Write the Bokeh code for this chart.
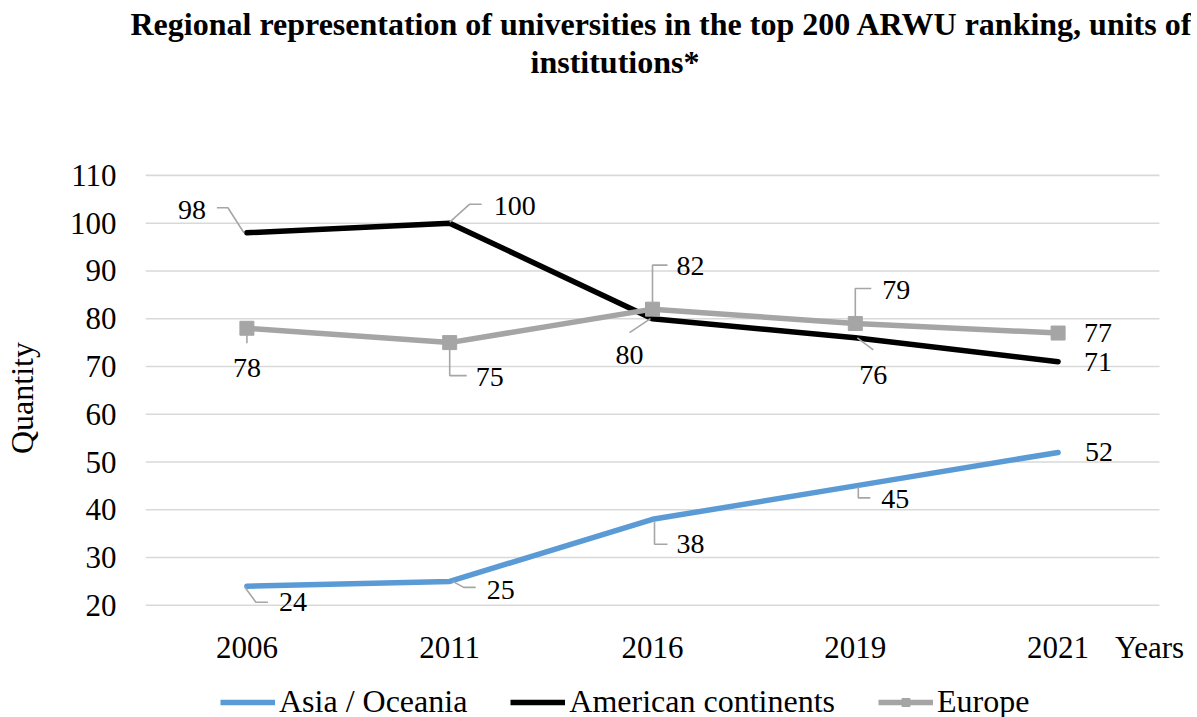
from bokeh.plotting import figure
from bokeh.models import Range1d, FixedTicker, Legend, LegendItem, Title
from bokeh.layouts import column
from bokeh.embed import file_html
from bokeh.resources import INLINE
from bokeh.core.properties import value

# ---------------- data ----------------
years = ["2006", "2011", "2016", "2019", "2021"]
asia = [24, 25, 38, 45, 52]
americas = [98, 100, 80, 76, 71]
europe = [78, 75, 82, 79, 77]
y_ticks = [20, 30, 40, 50, 60, 70, 80, 90, 100, 110]
series_names = ["Asia / Oceania", "American continents", "Europe"]
title_lines = ["Regional representation of universities in the top 200 ARWU ranking, units of",
               "institutions*"]
x_caption = "Years"
y_caption = "Quantity"

# ---------------- style / layout ----------------
FONT = "Liberation Serif"
FS_TICK = "31px"
FS_AXLAB = "32px"
FS_LAB = "28px"
FS_LEG = "32px"
FS_TITLE = "32px"
PX_X = 202.8            # pixels per category
PX_Y = 430 / 90         # pixels per unit
Y_LO, Y_HI = 16.4, 110.4
X_HI = 5 + 28 / PX_X
FRAME_W = round(X_HI * PX_X)
FRAME_H = round((Y_HI - Y_LO) * PX_Y)
LEFT, TOP, BOTTOM, RIGHT = 143, 173, 42, 4
LEG_H = 717 - (TOP + FRAME_H + BOTTOM)
xs = [i + 0.5 for i in range(len(years))]
CAPTION_X = len(years) - 10 / PX_X

C_ASIA = "#5B9BD5"
C_AM = "#000000"
C_EU = "#A5A5A5"
C_LEAD = "#A6A6A6"
C_GRID = "#D9D9D9"
LW = 5.5
MS = 14

# label offsets in pixels (dx right, dy down) and leader-line paths (pixels)
asia_lab = [(46, 16), (51, 9), (38, 25), (40, 13), (41, 0)]
asia_lead = [[(-2, 1), (9, 16), (21, 16)], [(3, 0), (14, 6), (26, 6)],
             [(2, 2), (2, 25), (15, 25)], [(3, 1), (3, 12), (15, 12)], None]
am_lab = [(-55, -23), (65, -17), (-23, 36), (18, 37), (40, 0)]
am_lead = [[(-3, 0), (-19, -25), (-30, -25)], [(0, -1), (20, -19), (32, -19)],
           [(-2, 0), (-23, 14)], [(2, 0), (18, 12)], None]
eu_lab = [(0, 40), (40, 34), (38, -43), (41, -33), (40, 0)]
eu_lead = [[(0, 7), (0, 15)], [(0, 6), (0, 33), (17, 33)],
           [(0, -5), (0, -44), (15, -44)], [(0, -6), (0, -35), (16, -35)], None]

p = figure(frame_width=FRAME_W, frame_height=FRAME_H,
           x_range=Range1d(0, X_HI), y_range=Range1d(Y_LO, Y_HI),
           output_backend="svg", toolbar_location=None,
           min_border_left=LEFT, min_border_top=TOP, min_border_right=RIGHT,
           min_border_bottom=BOTTOM)
p.outline_line_color = None
p.background_fill_color = "white"
p.border_fill_color = "white"


def style_axis(ax):
    ax.axis_line_color = None
    ax.major_tick_line_color = None
    ax.minor_tick_line_color = None
    ax.major_label_text_font = FONT
    ax.major_label_text_font_size = FS_TICK
    ax.major_label_text_color = "black"
    ax.axis_label_text_font = FONT
    ax.axis_label_text_font_size = FS_AXLAB
    ax.axis_label_text_font_style = "normal"
    ax.axis_label_text_color = "black"


# axes ("Years" caption sits at the right end of the category axis)
x_labels = {x: y for x, y in zip(xs, years)}
x_labels[CAPTION_X] = x_caption
p.xaxis.ticker = FixedTicker(ticks=xs + [CAPTION_X])
p.xaxis.major_label_overrides = x_labels
p.yaxis.ticker = FixedTicker(ticks=y_ticks)
style_axis(p.xaxis[0])
style_axis(p.yaxis[0])
p.xaxis.major_label_standoff = 1
p.yaxis.major_label_standoff = 23
p.yaxis.axis_label = y_caption
p.yaxis.axis_label_standoff = 27

p.xgrid.grid_line_color = None
p.ygrid.grid_line_color = None

# horizontal gridlines spanning the five categories only
p.segment(x0=[0] * len(y_ticks), x1=[len(years)] * len(y_ticks), y0=y_ticks, y1=y_ticks,
          line_color=C_GRID, line_width=1.6)

# series
p.line(xs, asia, line_color=C_ASIA, line_width=LW, line_cap="round", line_join="round")
p.line(xs, americas, line_color=C_AM, line_width=LW, line_cap="round", line_join="round")
p.line(xs, europe, line_color=C_EU, line_width=LW, line_cap="round", line_join="round")
p.scatter(xs, europe, marker="square", size=MS, fill_color=C_EU, line_color=C_EU)


def add_labels(vals, labs, leads):
    lx, ly, lt = [], [], []
    mx, my = [], []
    for x, v, (dx, dy), lead in zip(xs, vals, labs, leads):
        lx.append(x + dx / PX_X)
        ly.append(v - dy / PX_Y)
        lt.append(str(v))
        if lead:
            mx.append([x + a / PX_X for a, b in lead])
            my.append([v - b / PX_Y for a, b in lead])
    if mx:
        p.multi_line(mx, my, line_color=C_LEAD, line_width=1.6)
    p.text(lx, ly, text=lt, text_align="center", text_baseline="middle",
           text_font=value(FONT), text_font_size=value(FS_LAB), text_color="black")


add_labels(asia, asia_lab, asia_lead)
add_labels(americas, am_lab, am_lead)
add_labels(europe, eu_lab, eu_lead)

# two-line title (a blank spacer keeps it clear of the plot)
p.add_layout(Title(text=" ", standoff=81, text_font_size="10px"), "above")
p.add_layout(Title(text=title_lines[1], align="left", offset=385, standoff=0,
                   text_font=FONT, text_font_style="bold", text_font_size=FS_TITLE,
                   text_color="black"), "above")
p.add_layout(Title(text=title_lines[0], align="left", offset=-15, standoff=0,
                   text_font=FONT, text_font_style="bold", text_font_size=FS_TITLE,
                   text_color="black"), "above")

# ---------------- legend strip under the chart ----------------
# the strip's y range lies below zero, so its series renderers stay out of view
lg = figure(frame_width=FRAME_W, frame_height=LEG_H,
            x_range=p.x_range, y_range=Range1d(-LEG_H, 0),
            output_backend="svg", toolbar_location=None,
            min_border_left=LEFT, min_border_right=RIGHT,
            min_border_top=0, min_border_bottom=0)
lg.xaxis.visible = False
lg.yaxis.visible = False
lg.xgrid.grid_line_color = None
lg.ygrid.grid_line_color = None
lg.outline_line_color = None
lg.background_fill_color = "white"
lg.border_fill_color = "white"

k_asia = lg.line(xs, asia, line_color=C_ASIA, line_width=LW)
k_am = lg.line(xs, americas, line_color=C_AM, line_width=LW)
k_eu = lg.line(xs, europe, line_color=C_EU, line_width=LW)
k_eu_m = lg.scatter(xs, europe, marker="square", size=MS, fill_color=C_EU, line_color=C_EU)

legend = Legend(items=[LegendItem(label=series_names[0], renderers=[k_asia]),
                       LegendItem(label=series_names[1], renderers=[k_am]),
                       LegendItem(label=series_names[2], renderers=[k_eu, k_eu_m])],
                orientation="horizontal", location=(75, 0),
                label_text_font=FONT, label_text_font_size=FS_LEG,
                label_text_color="black",
                glyph_width=55, glyph_height=20, label_standoff=4, spacing=43,
                padding=0, margin=0, border_line_color=None,
                background_fill_alpha=0)
lg.add_layout(legend, "center")

open("out.html", "w").write(file_html(column(p, lg, spacing=0), INLINE))
